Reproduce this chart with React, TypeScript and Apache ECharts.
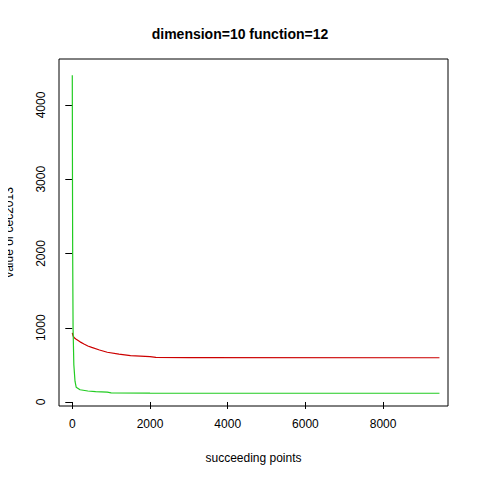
import { useEffect, useRef } from 'react'
import * as echarts from 'echarts'

const redX = [0, 20, 50, 100, 200, 300, 400, 500, 700, 900, 1200, 1500, 2000, 2150, 3000, 9450]
const redY = [930, 890, 865, 845, 810, 780, 755, 735, 700, 670, 645, 625, 612, 600, 598, 596]
const greenX = [0, 5, 10, 20, 40, 70, 100, 200, 400, 600, 900, 1000, 2000, 9450]
const greenY = [4400, 3000, 2000, 1000, 500, 280, 200, 165, 148, 140, 132, 122, 120, 118]
const xTicks = [0, 2000, 4000, 6000, 8000]
const yTicks = [0, 1000, 2000, 3000, 4000]

export default function App() {
  const ref = useRef<HTMLDivElement>(null)
  useEffect(() => {
    if (!ref.current) return
    const chart = echarts.init(ref.current, undefined, { renderer: 'svg' })
    const font = 'Liberation Sans'
    chart.setOption({
      animation: false,
      backgroundColor: '#fff',
      textStyle: { fontFamily: font },
      title: {
        text: 'dimension=10 function=12',
        left: 'center',
        top: 22,
        textStyle: { fontSize: 14, fontWeight: 'bold', color: '#000', fontFamily: font },
      },
      grid: {
        left: 59, right: 32, top: 59, bottom: 74,
        outerBoundsMode: 'none', containLabel: false,
        show: true, borderColor: '#000', borderWidth: 1,
      },
      xAxis: {
        type: 'value',
        min: -342,
        max: 9670,
        name: 'succeeding points',
        nameLocation: 'middle',
        nameGap: 46,
        nameTextStyle: { color: '#000', fontSize: 12 },
        axisLine: { show: false },
        splitLine: { show: false },
        axisTick: { show: true, length: 7, inside: false, lineStyle: { color: '#000' }, customValues: xTicks },
        axisLabel: { color: '#000', fontSize: 12, margin: 12, customValues: xTicks, formatter: (v: number) => String(v) },
      },
      yAxis: {
        type: 'value',
        min: -54,
        max: 4620,
        name: 'value of cec2013',
        nameLocation: 'middle',
        nameGap: 44,
        nameTextStyle: { color: '#000', fontSize: 12 },
        axisLine: { show: false },
        splitLine: { show: false },
        axisTick: { show: true, length: 7, inside: false, lineStyle: { color: '#000' }, customValues: yTicks },
        axisLabel: { color: '#000', fontSize: 12, rotate: 90, margin: 12, customValues: yTicks, formatter: (v: number) => String(v) },
      },
      series: [
        {
          type: 'line',
          data: redX.map((x, i) => [x, redY[i]]),
          symbol: 'none',
          lineStyle: { color: '#cc0000', width: 1.2 },
        },
        {
          type: 'line',
          data: greenX.map((x, i) => [x, greenY[i]]),
          symbol: 'none',
          lineStyle: { color: '#22cc22', width: 1.2 },
        },
      ],
    })
    return () => chart.dispose()
  }, [])
  return <div ref={ref} style={{ width: 480, height: 480, margin: -8 }} />
}
